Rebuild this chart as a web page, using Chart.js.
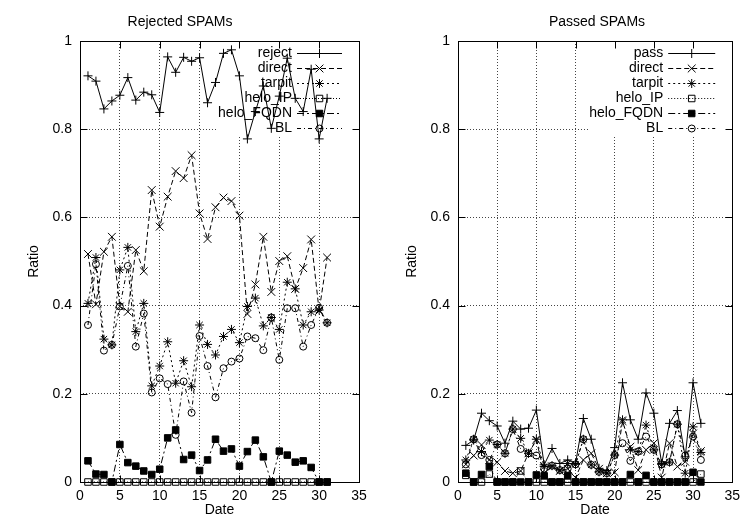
<!DOCTYPE html>
<html>
<head>
<meta charset="utf-8">
<title>SPAM ratios</title>
<script src="https://cdn.jsdelivr.net/npm/chart.js@4.4.0/dist/chart.umd.min.js"></script>
<style>
  html, body { margin: 0; padding: 0; background: #fff; }
  #wrap { position: relative; width: 746px; height: 523px; }
  .box { position: absolute; top: 0; width: 373px; height: 523px; }
</style>
</head>
<body>
<div id="wrap">
  <div class="box" style="left:0"><canvas id="rejChart" width="373" height="523"></canvas></div>
  <div class="box" style="left:373px"><canvas id="passChart" width="373" height="523"></canvas></div>
</div>
<script>
// Data
const days = [1,2,3,4,5,6,7,8,9,10,11,12,13,14,15,16,17,18,19,20,21,22,23,24,25,26,27,28,29,30,31];
const xTicks = [0,5,10,15,20,25,30,35];
const yTicks = [0,0.2,0.4,0.6,0.8,1];
const yTickLabels = ['0','0.2','0.4','0.6','0.8','1'];

const rejNames = ['reject','direct','tarpit','helo_IP','helo_FQDN','BL'];
const rejReject = [0.921,0.909,0.846,0.864,0.877,0.917,0.866,0.884,0.878,0.838,0.964,0.929,0.963,0.954,0.962,0.860,0.906,0.972,0.980,0.921,0.778,0.840,0.898,0.802,0.875,0.961,0.870,0.840,0.936,0.778,0.870];
const rejDirect = [0.517,0.403,0.522,0.556,0.398,0.386,0.526,0.478,0.662,0.579,0.647,0.705,0.689,0.741,0.609,0.551,0.623,0.645,0.637,0.604,0.381,0.448,0.556,0.431,0.501,0.512,0.438,0.485,0.550,0.388,0.509];
const rejTarpit = [0.405,0.509,0.324,0.311,0.481,0.532,0.341,0.405,0.218,0.263,0.318,0.224,0.275,0.216,0.356,0.312,0.288,0.330,0.346,0.316,0.398,0.417,0.354,0.373,0.346,0.453,0.438,0.356,0.386,0.390,0.361];
const rejHeloIP = [0,0,0,0,0,0,0,0,0,0,0,0,0,0,0,0,0,0,0,0,0,0,0,0,0,0,0,0,0,0,0];
const rejHeloFQDN = [0.048,0.018,0.017,0,0.085,0.044,0.036,0.025,0.017,0.029,0.100,0.118,0.051,0.061,0.026,0.050,0.097,0.070,0.075,0.036,0.069,0.095,0.057,0,0.070,0.061,0.045,0.048,0.033,0,0];
const rejBL = [0.356,0.494,0.298,0.311,0.398,0.490,0.307,0.382,0.203,0.235,0.222,0.107,0.228,0.157,0.331,0.263,0.192,0.258,0.273,0.280,0.330,0.326,0.299,0.373,0.277,0.394,0.394,0.307,0.356,0.395,0.361];

const passNames = ['pass','direct','tarpit','helo_IP','helo_FQDN','BL'];
const passPass = [0.083,0.095,0.156,0.139,0.127,0.088,0.138,0.120,0.122,0.163,0.039,0.076,0.042,0.050,0.042,0.144,0.097,0.031,0.026,0.078,0.225,0.141,0.097,0.202,0.156,0.042,0.133,0.162,0.057,0.225,0.133];
const passDirect = [0.040,0.060,0.084,0.050,0.045,0.025,0.020,0.025,0.065,0.095,0.020,0.035,0.025,0.030,0.010,0.050,0.065,0.030,0.020,0.022,0.138,0.080,0.027,0.073,0.088,0.010,0.088,0.035,0.046,0.110,0.070];
const passTarpit = [0.050,0.097,0.069,0.095,0.085,0.065,0.120,0.099,0.065,0.097,0.035,0.037,0.027,0.042,0.040,0.097,0.039,0.023,0.020,0.061,0.141,0.073,0.069,0.129,0.073,0.040,0.045,0.131,0.020,0.125,0.067];
const passHeloIP = [0.015,0,0,0.018,0,0,0,0.025,0,0,0,0,0,0,0,0,0,0,0,0,0,0,0,0,0,0,0,0,0,0,0.018];
const passHeloFQDN = [0.020,0,0.017,0.035,0,0,0,0,0,0.016,0.014,0,0,0.014,0,0,0,0,0,0,0,0.017,0,0.015,0,0,0,0,0,0.022,0];
const passBL = [0.040,0.097,0.061,0.050,0.085,0.065,0.120,0.075,0.065,0.060,0.030,0.037,0.027,0.030,0.040,0.097,0.039,0.023,0.020,0.061,0.088,0.048,0.069,0.103,0.073,0.040,0.045,0.131,0.060,0.103,0.050];

// gnuplot-ish line / point types, one per series slot
const seriesStyle = [
    { dash: [],          point: 'cross',    r: 4.5, fill: 'rgba(0,0,0,0)' },
    { dash: [5, 3],      point: 'crossRot', r: 5.5, fill: 'rgba(0,0,0,0)' },
    { dash: [2, 3],      point: 'star',     r: 4.5, fill: 'rgba(0,0,0,0)' },
    { dash: [1, 2],      point: 'rect',     r: 4.6, fill: 'rgba(0,0,0,0)' },
    { dash: [7, 3, 2, 3], point: 'rect',    r: 4.6, fill: '#000' },
    { dash: [4, 3, 1, 3], point: 'circle',  r: 3.5, fill: 'rgba(0,0,0,0)' }
];

const FONT = '"Liberation Sans", Arial, Helvetica, sans-serif';
Chart.defaults.font.family = FONT;
Chart.defaults.font.size = 14;
Chart.defaults.color = '#000';

function buildSets(names, series) {
    return names.map((name, i) => ({
        label: name,
        data: days.map((d, j) => ({ x: d, y: series[i][j] })),
        borderColor: '#000',
        borderWidth: 1,
        borderDash: seriesStyle[i].dash,
        pointStyle: seriesStyle[i].point,
        pointRadius: seriesStyle[i].r,
        pointBorderColor: '#000',
        pointBackgroundColor: seriesStyle[i].fill,
        pointBorderWidth: 1,
        tension: 0,
        fill: false,
        clip: false,
        order: -i
    }));
}

// legend marker, same shapes as chart.js point styles
function drawMarker(ctx, style, x, y, r, fill) {
    ctx.beginPath();
    if (style === 'cross' || style === 'star') {
        ctx.moveTo(x - r, y); ctx.lineTo(x + r, y);
        ctx.moveTo(x, y - r); ctx.lineTo(x, y + r);
    }
    if (style === 'crossRot' || style === 'star') {
        const o = r * Math.SQRT1_2;
        ctx.moveTo(x - o, y - o); ctx.lineTo(x + o, y + o);
        ctx.moveTo(x - o, y + o); ctx.lineTo(x + o, y - o);
    }
    if (style === 'rect') {
        const s = r * Math.SQRT1_2;
        ctx.rect(x - s, y - s, 2 * s, 2 * s);
        ctx.fillStyle = fill; ctx.fill();
    }
    if (style === 'circle') {
        ctx.arc(x, y, r, 0, Math.PI * 2);
        ctx.fillStyle = fill; ctx.fill();
    }
    ctx.stroke();
}

// frame, inward ticks, key and title like gnuplot draws them
const gnuFrame = {
    id: 'gnuFrame',
    beforeDatasetsDraw(chart, args, opts) {
        const ctx = chart.ctx;
        const a = chart.chartArea;
        const xs = chart.scales.x, ys = chart.scales.y;
        const sets = chart.data.datasets;
        ctx.save();
        ctx.font = '14px ' + FONT;

        // key box
        let wmax = 0;
        sets.forEach(d => { wmax = Math.max(wmax, ctx.measureText(d.label).width); });
        const textRight = a.right - opts.keyRight;
        const rowTop = a.top + 12, step = 15;
        const boxLeft = textRight - wmax - 1;
        ctx.fillStyle = '#fff';
        ctx.fillRect(boxLeft, a.top + 1, a.right - boxLeft - 1, step * sets.length + 4);

        sets.forEach((d, i) => {
            const y = rowTop + i * step;
            ctx.fillStyle = '#000';
            ctx.textAlign = 'right';
            ctx.textBaseline = 'middle';
            ctx.fillText(d.label, textRight, y);
            const x1 = textRight + 5, x2 = a.right - 17;
            ctx.strokeStyle = '#000';
            ctx.lineWidth = 1;
            ctx.setLineDash(d.borderDash);
            ctx.beginPath();
            ctx.moveTo(x1, Math.round(y) + 0.5);
            ctx.lineTo(x2, Math.round(y) + 0.5);
            ctx.stroke();
            ctx.setLineDash([]);
            drawMarker(ctx, d.pointStyle, (x1 + x2) / 2, Math.round(y) + 0.5, d.pointRadius, d.pointBackgroundColor);
        });

        // frame
        ctx.setLineDash([]);
        ctx.strokeStyle = '#000';
        ctx.lineWidth = 1;
        const L = Math.round(a.left) + 0.5, R = Math.round(a.right) + 0.5;
        const T = Math.round(a.top) + 0.5, B = Math.round(a.bottom) + 0.5;
        ctx.strokeRect(L, T, R - L, B - T);

        // ticks, inward and mirrored
        ctx.beginPath();
        xTicks.forEach(v => {
            const px = Math.round(xs.getPixelForValue(v)) + 0.5;
            ctx.moveTo(px, B); ctx.lineTo(px, B - 7);
            ctx.moveTo(px, T); ctx.lineTo(px, T + 7);
        });
        yTicks.forEach(v => {
            const py = Math.round(ys.getPixelForValue(v)) + 0.5;
            ctx.moveTo(L, py); ctx.lineTo(L + 7, py);
            ctx.moveTo(R, py); ctx.lineTo(R - 7, py);
        });
        ctx.stroke();

        // title
        ctx.fillStyle = '#000';
        ctx.textAlign = 'center';
        ctx.textBaseline = 'middle';
        ctx.fillText(opts.title, opts.titleX, 22);
        ctx.restore();
    }
};

function makeConfig(names, series, cfg) {
    return {
        type: 'line',
        data: { datasets: buildSets(names, series) },
        options: {
            responsive: false,
            animation: false,
            events: [],
            layout: { padding: { left: 0, right: cfg.padRight, top: 41, bottom: 0 } },
            plugins: {
                legend: { display: false },
                tooltip: { enabled: false },
                gnuFrame: { keyRight: cfg.keyRight, title: cfg.title, titleX: cfg.titleX }
            },
            scales: {
                x: {
                    type: 'linear',
                    min: 0,
                    max: 35,
                    afterBuildTicks: s => { s.ticks = xTicks.map(v => ({ value: v })); },
                    grid: { color: '#444', drawTicks: false },
                    border: { display: false, dash: [1, 2] },
                    ticks: { padding: 6, maxRotation: 0, callback: v => String(v) },
                    title: { display: true, text: 'Date', padding: { top: 0, bottom: 4.6 } },
                    afterFit: s => { s.height = 41; }
                },
                y: {
                    type: 'linear',
                    min: 0,
                    max: 1,
                    afterBuildTicks: s => { s.ticks = yTicks.map(v => ({ value: v })); },
                    grid: { color: '#444', drawTicks: false },
                    border: { display: false, dash: [1, 2] },
                    ticks: { padding: 8, callback: (v, i) => yTickLabels[i] },
                    title: { display: true, text: 'Ratio', padding: { top: cfg.ratioPad, bottom: 0 } },
                    afterFit: s => { s.width = cfg.yWidth; }
                }
            }
        },
        plugins: [gnuFrame]
    };
}

const rejChart = new Chart(document.getElementById('rejChart'), makeConfig(
    rejNames,
    [rejReject, rejDirect, rejTarpit, rejHeloIP, rejHeloFQDN, rejBL],
    { padRight: 14, yWidth: 80, ratioPad: 25.6, keyRight: 67, title: 'Rejected SPAMs', titleX: 180 }
));

const passChart = new Chart(document.getElementById('passChart'), makeConfig(
    passNames,
    [passPass, passDirect, passTarpit, passHeloIP, passHeloFQDN, passBL],
    { padRight: 8, yWidth: 85, ratioPad: 30.6, keyRight: 69, title: 'Passed SPAMs', titleX: 224 }
));
</script>
</body>
</html>
